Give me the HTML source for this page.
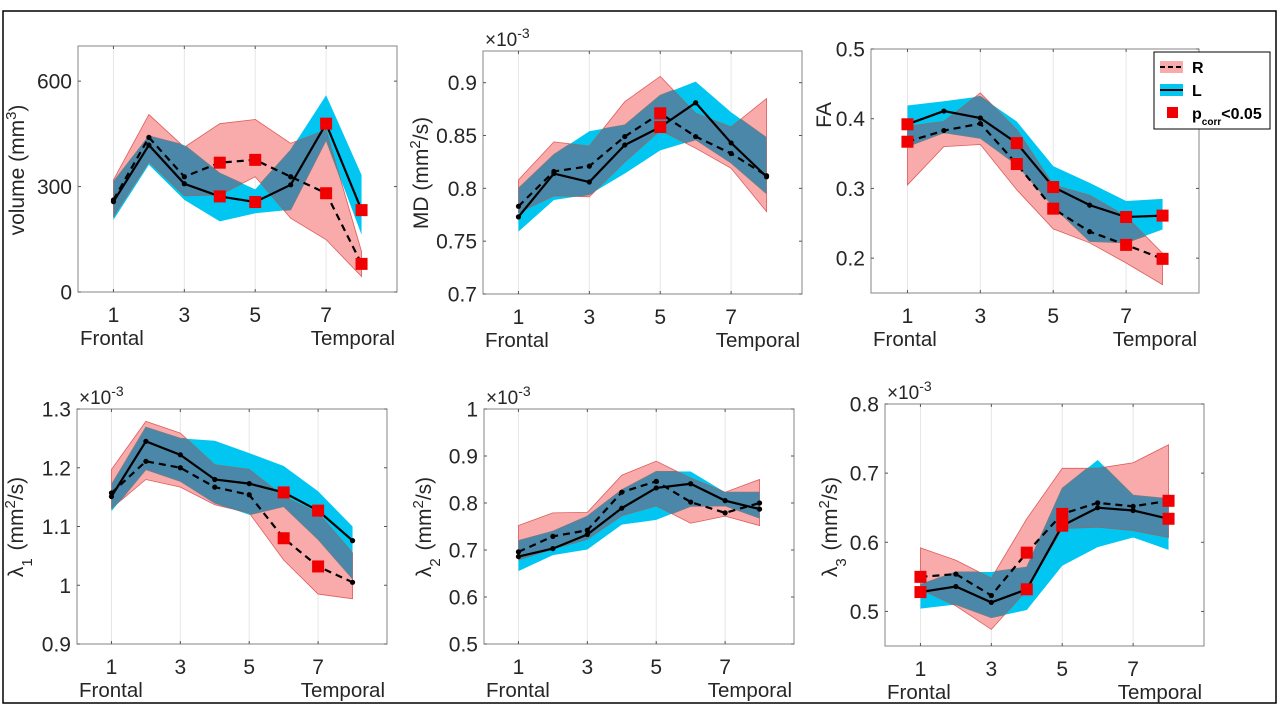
<!DOCTYPE html>
<html><head><meta charset="utf-8"><style>
html,body{margin:0;padding:0;background:#fff;}
svg{display:block;font-family:"Liberation Sans",sans-serif;}
</style></head><body>
<svg id="fig" width="1280" height="720" viewBox="0 0 1280 720" xmlns="http://www.w3.org/2000/svg">
<rect x="3" y="11" width="1273" height="692" fill="none" stroke="#000" stroke-width="1.5"/>
</svg>
<script>
const regions = [1,2,3,4,5,6,7,8];
// volume
const volRmean=[262,440,328,368,376,328,281,80];
const volRlo=[215,371,274,276,328,210,149,44];
const volRhi=[319,505,412,479,491,423,461,115];
const volLmean=[257,418,308,272,256,305,479,233];
const volLlo=[205,362,262,201,224,234,432,163];
const volLhi=[314,444,418,338,292,404,560,333];
const volSig=[4,5,7,8];
// MD
const mdRmean=[0.783,0.816,0.821,0.849,0.871,0.849,0.833,0.812];
const mdRlo=[0.777,0.793,0.792,0.825,0.855,0.838,0.819,0.778];
const mdRhi=[0.808,0.844,0.840,0.882,0.906,0.871,0.858,0.885];
const mdLmean=[0.773,0.814,0.806,0.841,0.858,0.881,0.843,0.811];
const mdLlo=[0.759,0.789,0.794,0.814,0.836,0.846,0.824,0.795];
const mdLhi=[0.800,0.832,0.854,0.860,0.888,0.901,0.872,0.848];
const mdSig=[5];
// FA
const faRmean=[0.367,0.383,0.393,0.335,0.271,0.238,0.219,0.199];
const faRlo=[0.305,0.360,0.363,0.298,0.242,0.222,0.193,0.162];
const faRhi=[0.389,0.396,0.437,0.384,0.305,0.290,0.260,0.207];
const faLmean=[0.392,0.411,0.401,0.365,0.302,0.276,0.259,0.261];
const faLlo=[0.360,0.380,0.372,0.334,0.274,0.224,0.222,0.241];
const faLhi=[0.419,0.425,0.432,0.396,0.332,0.308,0.282,0.285];
const faSig=[1,4,5,7,8];
// lambda1
const l1Rmean=[1.157,1.211,1.200,1.167,1.154,1.080,1.032,1.005];
const l1Rlo=[1.131,1.180,1.167,1.137,1.123,1.043,0.985,0.977];
const l1Rhi=[1.197,1.279,1.259,1.205,1.197,1.151,1.123,1.055];
const l1Lmean=[1.151,1.245,1.222,1.180,1.173,1.158,1.127,1.076];
const l1Llo=[1.126,1.197,1.177,1.140,1.120,1.134,1.078,1.011];
const l1Lhi=[1.171,1.269,1.250,1.246,1.225,1.203,1.160,1.100];
const l1Sig=[6,7];
// lambda2
const l2Rmean=[0.696,0.729,0.742,0.823,0.846,0.802,0.779,0.800];
const l2Rlo=[0.679,0.702,0.723,0.773,0.794,0.757,0.772,0.752];
const l2Rhi=[0.752,0.779,0.780,0.859,0.889,0.853,0.823,0.850];
const l2Lmean=[0.686,0.703,0.733,0.789,0.832,0.841,0.805,0.787];
const l2Llo=[0.655,0.689,0.701,0.754,0.764,0.793,0.794,0.768];
const l2Lhi=[0.720,0.740,0.772,0.828,0.867,0.867,0.823,0.823];
const l2Sig=[];
// lambda3
const l3Rmean=[0.550,0.554,0.523,0.585,0.641,0.657,0.652,0.660];
const l3Rlo=[0.532,0.508,0.474,0.531,0.620,0.622,0.617,0.607];
const l3Rhi=[0.592,0.574,0.548,0.634,0.707,0.707,0.715,0.741];
const l3Lmean=[0.528,0.536,0.513,0.532,0.624,0.650,0.646,0.634];
const l3Llo=[0.504,0.510,0.491,0.502,0.566,0.593,0.607,0.589];
const l3Lhi=[0.539,0.557,0.557,0.564,0.678,0.719,0.668,0.663];
const l3Sig=[1,4,5,8];
const xTicks=[1,3,5,7];
const volTicks=["0","300","600"];
const mdTicks=["0.7","0.75","0.8","0.85","0.9"];
const faTicks=["0.2","0.3","0.4","0.5"];
const l1Ticks=["0.9","1","1.1","1.2","1.3"];
const l2Ticks=["0.5","0.6","0.7","0.8","0.9","1"];
const l3Ticks=["0.5","0.6","0.7","0.8"];

const NS="http://www.w3.org/2000/svg";
const svg=document.getElementById('fig');
function mk(tag,attrs,parent){const e=document.createElementNS(NS,tag);for(const k in attrs)e.setAttribute(k,attrs[k]);(parent||svg).appendChild(e);return e;}

const panels=[
 {key:'volume',box:[78,46,397,292],ymin:0,ymax:700,ticks:volTicks,R:[volRmean,volRlo,volRhi],L:[volLmean,volLlo,volLhi],sig:volSig,exp:false,lab:[24,170],ylab:'volume (mm<tspan baseline-shift="super" font-size="15">3</tspan>)'},
 {key:'md',box:[483,51,802,294],ymin:0.7,ymax:0.93,ticks:mdTicks,R:[mdRmean,mdRlo,mdRhi],L:[mdLmean,mdLlo,mdLhi],sig:mdSig,exp:true,lab:[428,173],ylab:'MD (mm<tspan baseline-shift="super" font-size="15">2</tspan>/s)'},
 {key:'fa',box:[871,49,1199,293],ymin:0.15,ymax:0.5,ticks:faTicks,R:[faRmean,faRlo,faRhi],L:[faLmean,faLlo,faLhi],sig:faSig,exp:false,lab:[831,115],ylab:'FA'},
 {key:'lambda1',box:[77,409,387,644],ymin:0.9,ymax:1.3,ticks:l1Ticks,R:[l1Rmean,l1Rlo,l1Rhi],L:[l1Lmean,l1Llo,l1Lhi],sig:l1Sig,exp:true,lab:[23,527],ylab:'λ<tspan baseline-shift="sub" font-size="15">1</tspan><tspan dx="2"> (mm</tspan><tspan baseline-shift="super" font-size="15">2</tspan>/s)'},
 {key:'lambda2',box:[484,409,794,644],ymin:0.5,ymax:1.0,ticks:l2Ticks,R:[l2Rmean,l2Rlo,l2Rhi],L:[l2Lmean,l2Llo,l2Lhi],sig:l2Sig,exp:true,lab:[431,527],ylab:'λ<tspan baseline-shift="sub" font-size="15">2</tspan><tspan dx="2"> (mm</tspan><tspan baseline-shift="super" font-size="15">2</tspan>/s)'},
 {key:'lambda3',box:[885,404,1204,646],ymin:0.45,ymax:0.8,ticks:l3Ticks,R:[l3Rmean,l3Rlo,l3Rhi],L:[l3Lmean,l3Llo,l3Lhi],sig:l3Sig,exp:true,lab:[837,527],ylab:'λ<tspan baseline-shift="sub" font-size="15">3</tspan><tspan dx="2"> (mm</tspan><tspan baseline-shift="super" font-size="15">2</tspan>/s)'}
];

panels.forEach((p,pi)=>{
 const [x0,y0,x1,y1]=p.box;
 const sx=v=>x0+(v-0)/(9-0)*(x1-x0);
 const sy=v=>y1-(v-p.ymin)/(p.ymax-p.ymin)*(y1-y0);
 const g=mk('g',{});
 
 
 xTicks.forEach(t=>{const l=mk('line',{x1:sx(t),x2:sx(t),y1:y0,y2:y1,stroke:'#e6e6e6','stroke-width':1},g);
  });
 const band=(m)=>{const lo=m[1],hi=m[2];let pts=regions.map((r,i)=>sx(r)+','+sy(hi[i]));pts=pts.concat(regions.map((r,i)=>sx(r)+','+sy(lo[i])).reverse());return pts.join(' ');};
 const rb=band(p.R), lb=band(p.L);
 const pr=mk('polygon',{points:rb,fill:'#f9abab',stroke:'#e05a5a','stroke-width':0.8},g);
 
 const pl=mk('polygon',{points:lb,fill:'#00c6f1'},g);
 
 const cp=mk('clipPath',{id:'clipL'+pi},g);mk('polygon',{points:lb},cp);
 const ov=mk('polygon',{points:rb,fill:'#4a87a9',stroke:'#777','stroke-width':1,'clip-path':'url(#clipL'+pi+')'},g);
 
 const ov2=mk('polygon',{points:lb,fill:'none',stroke:'#6f7f8a','stroke-width':1,'clip-path':'url(#clipR'+pi+')'},g);
 const cp2=mk('clipPath',{id:'clipR'+pi},g);mk('polygon',{points:rb},cp2);
 
 [['r',p.R[0],'7,5'],['l',p.L[0],null]].forEach(([nm,m,dash])=>{
  const a={points:regions.map((r,i)=>sx(r)+','+sy(m[i])).join(' '),fill:'none',stroke:'#000','stroke-width':2.2};
  if(dash)a['stroke-dasharray']=dash;
  const pl2=mk('polyline',a,g);
  regions.forEach((r,i)=>{const c=mk('circle',{cx:sx(r),cy:sy(m[i]),r:2.6,fill:'#000'},g);
   });
  p.sig.forEach(s=>{const i=s-1;const q=mk('rect',{x:sx(s)-6,y:sy(m[i])-6,width:12,height:12,fill:'#f00000'},g);
   });
 });
 const bx=mk('rect',{x:x0,y:y0,width:x1-x0,height:y1-y0,fill:'none',stroke:'#858585','stroke-width':1},g);
 
 xTicks.forEach(t=>{mk('line',{x1:sx(t),x2:sx(t),y1:y1,y2:y1-3,stroke:'#555'},g);mk('line',{x1:sx(t),x2:sx(t),y1:y0,y2:y0+3,stroke:'#555'},g);
  const tx=mk('text',{x:sx(t),y:y1+30,'text-anchor':'middle','font-size':21,fill:'#262626'},g);tx.textContent=t;
  });
 p.ticks.forEach(t=>{const v=parseFloat(t);const y=sy(v);
  mk('line',{x1:x0,x2:x0+3,y1:y,y2:y,stroke:'#555'},g);mk('line',{x1:x1,x2:x1-3,y1:y,y2:y,stroke:'#555'},g);
  const tx=mk('text',{x:x0-6,y:y+7.5,'text-anchor':'end','font-size':21,fill:'#262626'},g);tx.textContent=t;
  });
 const fr=mk('text',{x:x0+2,y:y1+53,'font-size':20.5,fill:'#262626'},g);fr.textContent='Frontal';
 
 const tp=mk('text',{x:x1-2,y:y1+53,'text-anchor':'end','font-size':20.5,fill:'#262626'},g);tp.textContent='Temporal';
 
 const yl=mk('text',{transform:`translate(${p.lab[0]},${p.lab[1]}) rotate(-90)`,'text-anchor':'middle','font-size':21,fill:'#262626'},g);
 yl.innerHTML=p.ylab;
 
 if(p.exp){const ex=mk('text',{x:x0+2,y:y0-5,'font-size':19,fill:'#262626'},g);
  ex.innerHTML='×10<tspan baseline-shift="super" font-size="14">-3</tspan>';
  }
});

const lg=mk('g',{});


mk('rect',{x:1154,y:52,width:116,height:77,fill:'#fff',stroke:'#000','stroke-width':1},lg);
const e1=mk('g',{},lg);
mk('rect',{x:1160,y:61,width:23,height:12,fill:'#f9abab'},e1);
mk('line',{x1:1160,x2:1183,y1:67,y2:67,stroke:'#000','stroke-width':2,'stroke-dasharray':'5,3'},e1);
const t1=mk('text',{x:1192,y:73,'font-size':16,'font-weight':'bold'},e1);t1.textContent='R';
const e2=mk('g',{},lg);
mk('rect',{x:1160,y:84,width:23,height:12,fill:'#00c6f1'},e2);
mk('line',{x1:1160,x2:1183,y1:90,y2:90,stroke:'#000','stroke-width':2},e2);
const t2=mk('text',{x:1192,y:96,'font-size':16,'font-weight':'bold'},e2);t2.textContent='L';
const e3=mk('g',{},lg);
mk('rect',{x:1167,y:107,width:11,height:11,fill:'#f00000'},e3);
const t3=mk('text',{x:1192,y:119,'font-size':16,'font-weight':'bold'},e3);
t3.innerHTML='p<tspan baseline-shift="sub" font-size="10">corr</tspan>&lt;0.05';
</script>
</body></html>
